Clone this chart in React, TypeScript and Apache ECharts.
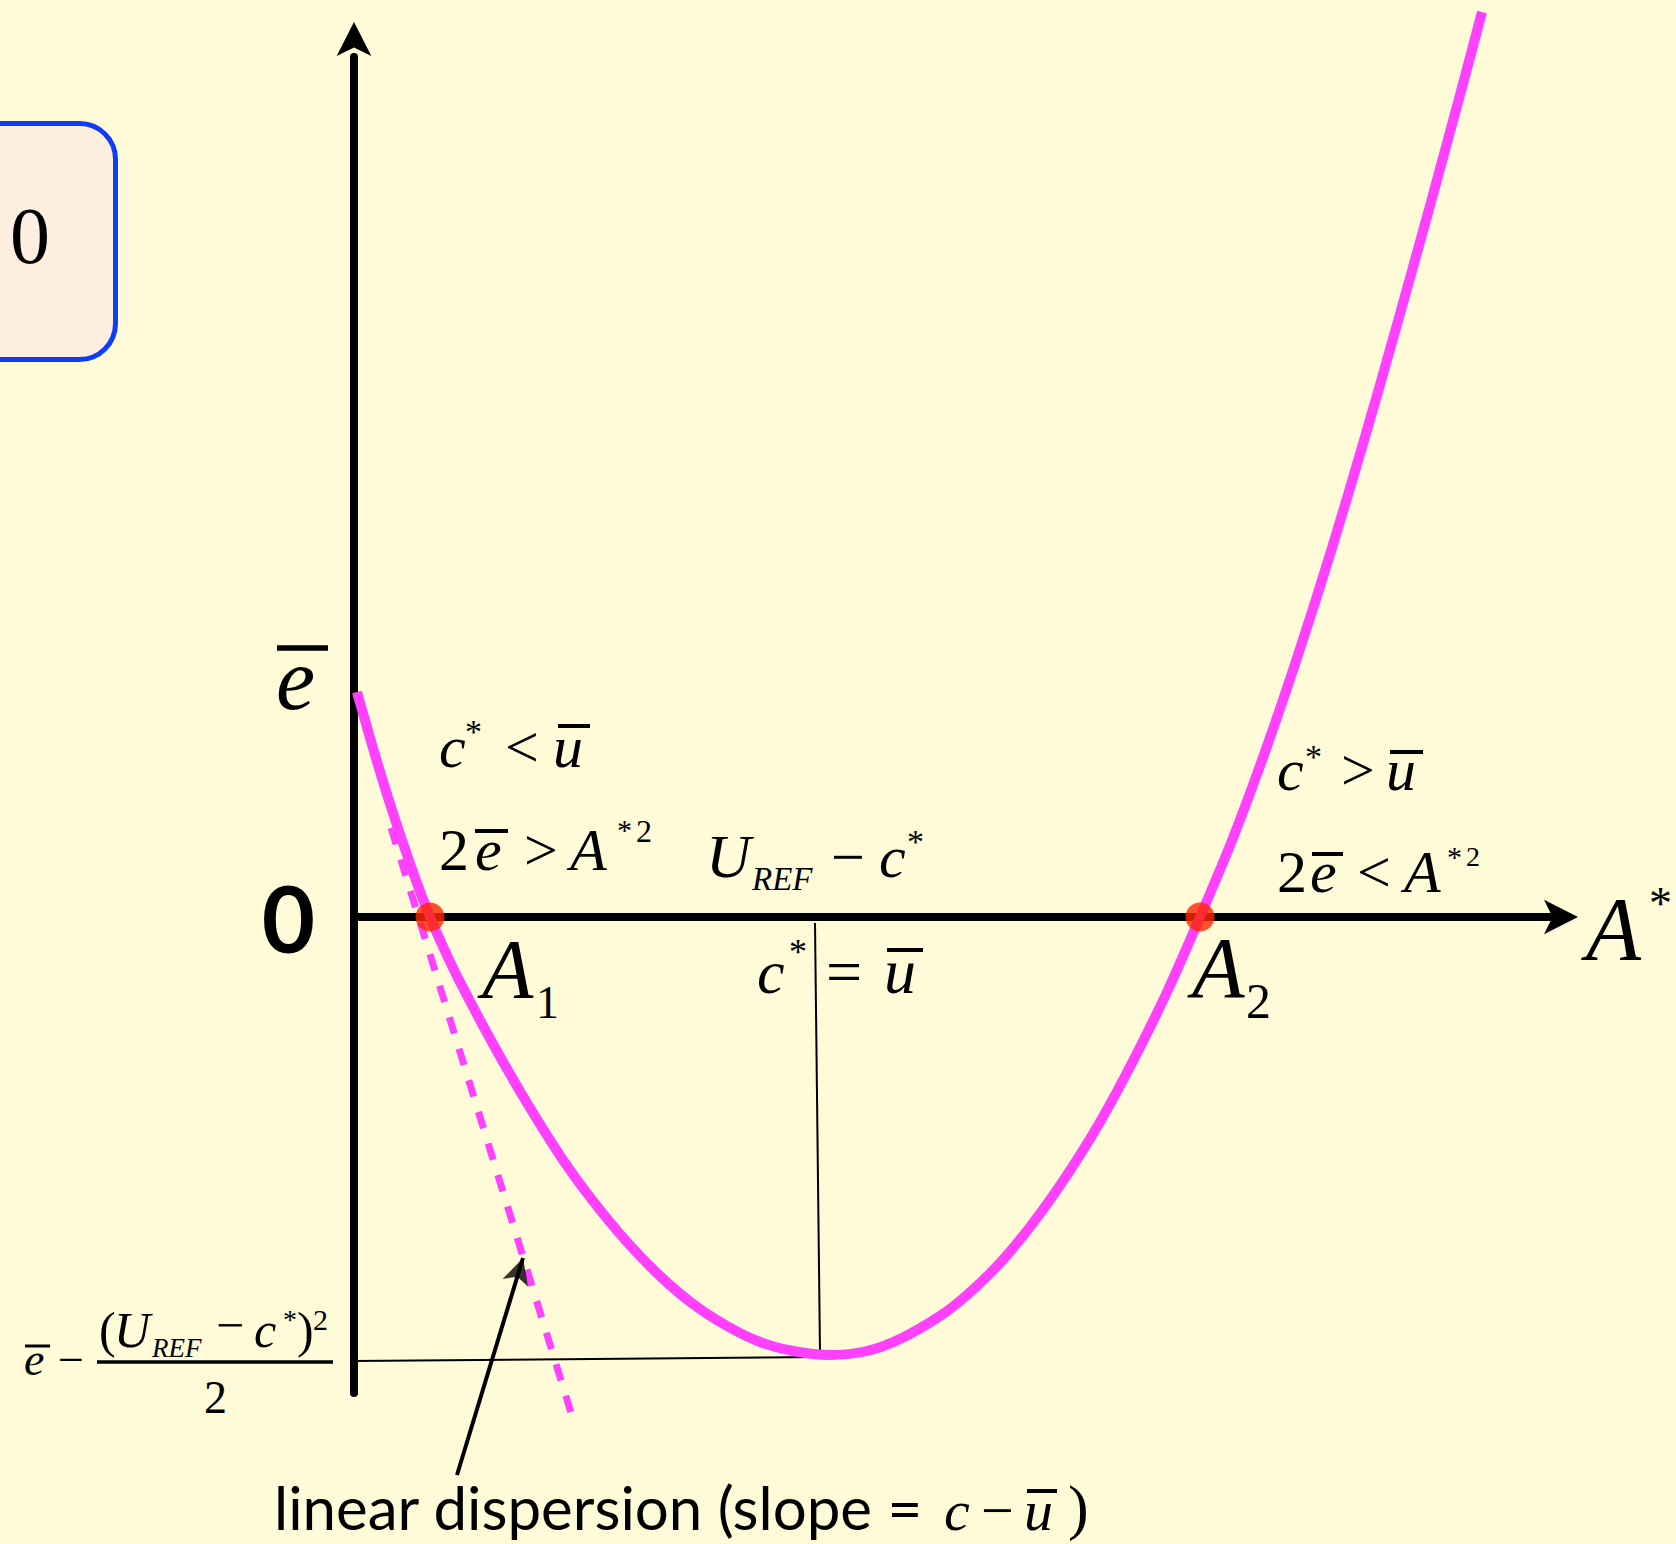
import React, { useEffect, useRef } from 'react';
import * as echarts from 'echarts';

// Dispersion curve e(A*), sampled along its length
const curveA = [0.03, 0.21, 0.38, 0.6, 0.76, 0.91, 1.06, 1.39, 1.73, 2.09, 2.39, 2.73, 3.06, 3.39, 3.73, 4.06, 4.39, 4.76, 5.13, 5.46, 5.86, 6.13, 6.46, 6.79, 7.13, 7.46, 7.79, 8.13, 8.46, 8.79, 9.12, 9.45, 9.78, 10.11, 10.44, 10.77, 11.1, 11.28];
const curveE = [2.25, 1.62, 1.07, 0.42, 0, -0.34, -0.65, -1.27, -1.86, -2.43, -2.84, -3.25, -3.59, -3.87, -4.09, -4.25, -4.34, -4.38, -4.34, -4.22, -3.99, -3.78, -3.46, -3.06, -2.58, -2.05, -1.44, -0.75, 0, 0.79, 1.68, 2.65, 3.69, 4.8, 5.96, 7.15, 8.37, 9.05];

// Zero crossings A1 and A2
const rootA = [0.76, 8.46];
const rootE = [0, 0];

// Linear-dispersion asymptote
const tangentA = [0.371, 2.18];
const tangentE = [0.89, -4.99];

// Drop from the minimum up to the axis (c* = u), and the level of the minimum
const dropA = [4.61, 4.66];
const dropE = [-0.06, -4.36];
const floorA = [0, 4.69];
const floorE = [-4.44, -4.4];

// Pointer from the caption to the asymptote (tail, tip)
const pointerA = [1.03, 1.69];
const pointerE = [-5.58, -3.41];

// Axis extents
const A_MIN = 0;
const A_MAX = 12;
const E_MIN = -4.76;
const E_MAX = 8.6;

const MAGENTA = '#ff40ff';
const ROOT_RED = '#ff2600';
const SERIF = '"Liberation Serif", "Times New Roman", serif';
const SANS = 'Lato, "Gill Sans", sans-serif';

type G = Record<string, unknown>;
type GlyphOpts = { italic?: boolean; sans?: boolean; bold?: boolean; align?: string };

const pairs = (xs: number[], ys: number[]) => xs.map((x, i) => [x, ys[i]]);

// Text placed by its baseline; the renderer centres glyphs on the central baseline
function glyph(text: string, x: number, baseline: number, size: number, o: GlyphOpts = {}): G {
  const k = o.sans ? 0.387 : 0.34;
  return {
    type: 'text',
    x,
    y: baseline - k * size,
    silent: true,
    style: {
      text,
      fill: '#000',
      fontFamily: o.sans ? SANS : SERIF,
      fontSize: size,
      fontStyle: o.italic ? 'italic' : 'normal',
      fontWeight: o.bold ? 'bold' : 'normal',
      textAlign: o.align ?? 'left',
      verticalAlign: 'middle',
      textVerticalAlign: 'middle',
    },
  };
}

// Overlines and fraction bars
function bar(x0: number, x1: number, y: number, h: number): G {
  return {
    type: 'rect',
    silent: true,
    shape: { x: x0, y: y - h / 2, width: x1 - x0, height: h },
    style: { fill: '#000' },
  };
}

function buildGraphics(): G[] {
  return [
    // rounded panel at the top left
    {
      type: 'rect',
      silent: true,
      shape: { x: -60, y: 123.5, width: 175.5, height: 236, r: 36 },
      style: { fill: '#fdeee0', stroke: '#0d3ef7', lineWidth: 5 },
    },
    glyph('0', 30, 263, 80, { align: 'center' }),

    // e-bar on the vertical axis
    glyph('e', 276, 709, 88, { italic: true }),
    bar(277, 328, 648, 5.5),

    // zero on the vertical axis
    glyph('0', 288.5, 953, 92, { sans: true, bold: true, align: 'center' }),

    // c* < u
    glyph('c', 439, 767, 60, { italic: true }),
    glyph('*', 465, 743, 34),
    glyph('<', 505, 767, 60),
    glyph('u', 553, 767, 60, { italic: true }),
    bar(558, 590, 726, 4),

    // 2e > A*2
    glyph('2', 439, 870, 60),
    glyph('e', 475, 870, 60, { italic: true }),
    bar(475, 508, 831, 4),
    glyph('>', 524, 870, 60),
    glyph('A', 570, 870, 60, { italic: true }),
    glyph('*', 617, 840, 30),
    glyph('2', 636, 842, 32),

    // U_REF - c*
    glyph('U', 706, 877, 62, { italic: true }),
    glyph('REF', 752, 890, 33, { italic: true }),
    glyph('\u2212', 831, 877, 60),
    glyph('c', 879, 877, 60, { italic: true }),
    glyph('*', 907, 853, 34),

    // c* = u
    glyph('c', 757, 993, 62, { italic: true }),
    glyph('*', 789, 964, 36),
    glyph('=', 826, 993, 64),
    glyph('u', 884, 993, 64, { italic: true }),
    bar(887, 923, 950, 4),

    // c* > u
    glyph('c', 1277, 790, 60, { italic: true }),
    glyph('*', 1305, 768, 34),
    glyph('>', 1341, 790, 60),
    glyph('u', 1386, 790, 60, { italic: true }),
    bar(1390, 1423, 752, 4),

    // 2e < A*2
    glyph('2', 1277, 892, 60),
    glyph('e', 1310, 892, 60, { italic: true }),
    bar(1312, 1343, 854, 4),
    glyph('<', 1357, 892, 60),
    glyph('A', 1404, 892, 60, { italic: true }),
    glyph('*', 1447, 867, 30),
    glyph('2', 1466, 866, 28),

    // axis title A*
    glyph('A', 1586, 960, 90, { italic: true }),
    glyph('*', 1649, 919, 46),

    // A1 and A2
    glyph('A', 482, 998, 84, { italic: true }),
    glyph('1', 536, 1018, 46),
    glyph('A', 1192, 997, 86, { italic: true }),
    glyph('2', 1246, 1018, 50),

    // level of the minimum: e - (U_REF - c*)^2 / 2
    glyph('e', 24, 1375, 46, { italic: true }),
    bar(25, 50, 1346, 3),
    glyph('\u2212', 58, 1375, 46),
    glyph('(', 99, 1347, 50),
    glyph('U', 114, 1347, 50, { italic: true }),
    glyph('REF', 152, 1357, 27, { italic: true }),
    glyph('\u2212', 216, 1342, 50),
    glyph('c', 254, 1347, 50, { italic: true }),
    glyph('*', 283, 1329, 28),
    glyph(')', 297, 1347, 50),
    glyph('2', 313, 1330, 30),
    bar(97, 333, 1362, 3.5),
    glyph('2', 215.5, 1413, 46, { align: 'center' }),

    // caption of the asymptote
    glyph('linear dispersion (slope =', 274, 1530, 60, { sans: true }),
    glyph('c', 944, 1530, 58, { italic: true }),
    glyph('\u2212', 981, 1530, 58),
    glyph('u', 1024, 1530, 58, { italic: true }),
    bar(1027, 1057, 1491, 4),
    glyph(')', 1068, 1528, 62),
  ];
}

export default function App() {
  const ref = useRef<HTMLDivElement>(null);

  useEffect(() => {
    if (!ref.current) return;
    const chart = echarts.init(ref.current, undefined, { renderer: 'svg' });

    const hiddenAxisParts = {
      axisTick: { show: false },
      axisLabel: { show: false },
      splitLine: { show: false },
    };

    chart.setOption({
      animation: false,
      backgroundColor: '#fffad8',
      grid: { left: 354, top: 57, width: 1200, height: 1336, containLabel: false },
      xAxis: {
        type: 'value',
        min: A_MIN,
        max: A_MAX,
        axisLine: {
          onZero: true,
          symbol: ['none', 'arrow'],
          symbolSize: [26, 34],
          symbolOffset: [0, 24],
          lineStyle: { color: '#000', width: 8 },
        },
        ...hiddenAxisParts,
      },
      yAxis: {
        type: 'value',
        min: E_MIN,
        max: E_MAX,
        axisLine: {
          onZero: true,
          symbol: ['none', 'arrow'],
          symbolSize: [26, 34],
          symbolOffset: [0, 35],
          lineStyle: { color: '#000', width: 8 },
        },
        ...hiddenAxisParts,
      },
      series: [
        {
          name: 'asymptote',
          type: 'line',
          data: pairs(tangentA, tangentE),
          showSymbol: false,
          clip: false,
          z: 2,
          lineStyle: { color: MAGENTA, width: 7, type: [17, 16] },
        },
        {
          name: 'drop',
          type: 'line',
          data: pairs(dropA, dropE),
          showSymbol: false,
          z: 2,
          lineStyle: { color: '#000', width: 2 },
        },
        {
          name: 'floor',
          type: 'line',
          data: pairs(floorA, floorE),
          showSymbol: false,
          z: 2,
          lineStyle: { color: '#000', width: 2 },
        },
        {
          name: 'dispersion',
          type: 'line',
          data: pairs(curveA, curveE),
          smooth: 0.33,
          showSymbol: false,
          clip: false,
          z: 3,
          lineStyle: { color: MAGENTA, width: 10 },
        },
        {
          name: 'pointer',
          type: 'line',
          data: pairs(pointerA, pointerE),
          showSymbol: false,
          clip: false,
          z: 4,
          lineStyle: { color: '#000', width: 4 },
        },
        {
          name: 'pointer head',
          type: 'scatter',
          data: [[pointerA[1], pointerE[1]]],
          symbol: 'arrow',
          symbolSize: [20, 26],
          symbolRotate: -17,
          z: 4,
          itemStyle: { color: '#000' },
        },
        {
          name: 'roots',
          type: 'scatter',
          data: pairs(rootA, rootE),
          symbol: 'circle',
          symbolSize: 29,
          z: 5,
          itemStyle: { color: ROOT_RED },
        },
      ],
      graphic: buildGraphics(),
    });

    return () => chart.dispose();
  }, []);

  return (
    <div
      ref={ref}
      style={{ position: 'absolute', left: 0, top: 0, width: 1676, height: 1544 }}
    />
  );
}
